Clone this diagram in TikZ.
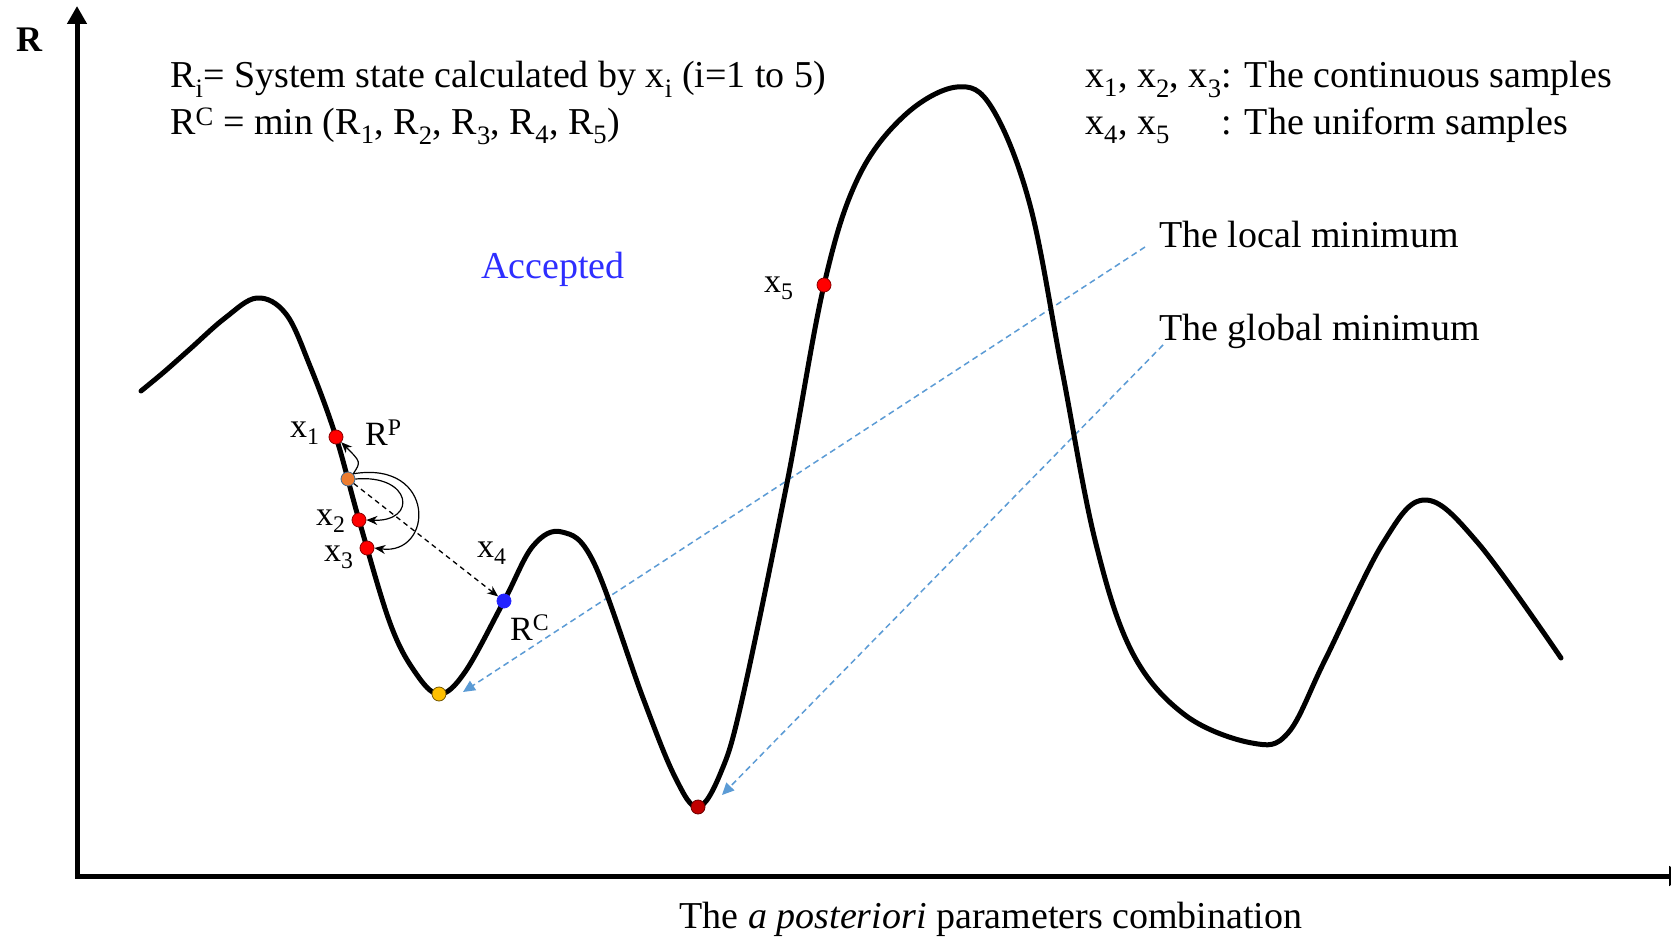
\documentclass[tikz,border=0pt]{standalone}
\usepackage{fontspec}
\setmainfont{Liberation Serif}
\usetikzlibrary{arrows.meta}
\definecolor{lblue}{HTML}{5B9BD5}
\definecolor{accblue}{HTML}{2E2EFF}
\definecolor{dotorange}{HTML}{ED7D31}
\definecolor{dotyellow}{HTML}{FFC000}
\definecolor{dotblue}{HTML}{2323FF}
\definecolor{dotdark}{HTML}{C00000}
\definecolor{dotred}{HTML}{FF0000}
\tikzset{
  curveline/.style={line width=5pt, line join=round, line cap=round},
  axisline/.style={line width=5pt, line join=miter, {Triangle[width=19pt,length=18pt]}-{Triangle[width=19pt,length=18pt]}},
  dot/.style={circle, inner sep=0pt, minimum size=14pt, line width=0.8pt},
  reddot/.style={dot, fill=dotred, draw=dotred!55!black},
  lbl/.style={inner sep=0pt, font=\fontsize{34}{40}\selectfont},
  txt/.style={inner sep=0pt, font=\fontsize{38}{47}\selectfont},
  bluedash/.style={draw=lblue, line width=1.5pt, dash pattern=on 6pt off 4pt, -{Triangle[width=11pt,length=12pt,fill=lblue]}},
  blackdash/.style={line width=1.3pt, dash pattern=on 5pt off 4pt, -{Stealth[width=9pt,length=11pt]}},
  thinarr/.style={line width=1.2pt, -{Stealth[width=9pt,length=11pt]}},
}
\begin{document}
\begin{tikzpicture}[x=1pt,y=-1pt]
\useasboundingbox (0,0) rectangle (1671,939);
\clip (0,0) rectangle (1671,939);
\fill[white] (0,0) rectangle (1671,939);

% axes
\coordinate (ytop) at (77,6);
\coordinate (origin) at (77,876);
\coordinate (xend) at (1687,876);
\draw[axisline] (ytop) -- (origin) -- (xend);
\node[font=\bfseries\fontsize{36}{40}\selectfont, inner sep=0pt] (Rlab) at (29,40) {R};

% blue dashed pointers
\coordinate (locA) at (1145,247);
\coordinate (locB) at (463,692);
\coordinate (gloA) at (1163,345);
\coordinate (gloB) at (722,795);
\draw[bluedash] (locA) -- (locB);
\draw[bluedash] (gloA) -- (gloB);

% curve
\draw[curveline] plot[smooth, tension=0.6] coordinates {
(141,391) (164,372) (190,349) (225,318) (257,298) (286,314) (310,366) (336,437)
(359,520) (390,623) (415,672) (439,694) (465,672) (504,601) (533,546)
(562,532) (594,563) (643,698) (675,777) (698,807) (721,772) (742,700)
(787,483) (824,285) (858,178) (905,115) (957,87) (992,108) (1030,205)
(1062,370) (1095,540) (1132,652) (1185,715) (1252,743) (1288,733)
(1325,660) (1383,543) (1425,500) (1478,543) (1561,658)};

% dots
\node[reddot] (d1) at (336,437) {};
\node[dot, fill=dotorange, draw=lblue!70!black] (dp) at (348,479) {};
\node[reddot] (d2) at (359,520) {};
\node[reddot] (d3) at (367,548) {};
\node[dot, fill=dotyellow, draw=dotyellow!45!black] (dy) at (439,694) {};
\node[dot, fill=dotblue, draw=dotblue] (dc) at (504,601) {};
\node[dot, fill=dotdark, draw=dotdark!55!black] (dg) at (698,807) {};
\node[reddot] (d5) at (824,285) {};

% sample arrows
\draw[thinarr] (dp.north east) .. controls (361,462) .. (d1.south east);
\draw[thinarr] (dp.east) .. controls (412,474) and (418,522) .. (d2.east);
\draw[thinarr] (dp.north east) .. controls (437,460) and (434,556) .. (d3.east);
\draw[blackdash] (dp) -- (dc);

% labels
\node[lbl, anchor=base west] (lx1) at (290,437) {x\textsubscript{1}};
\node[lbl, anchor=base west] (lRP) at (365,445) {R\textsuperscript{P}};
\node[lbl, anchor=base west] (lx2) at (316,525) {x\textsubscript{2}};
\node[lbl, anchor=base west] (lx3) at (324,561) {x\textsubscript{3}};
\node[lbl, anchor=base west] (lx4) at (477,557) {x\textsubscript{4}};
\node[lbl, anchor=base west] (lRC) at (510,640) {R\textsuperscript{C}};
\node[lbl, anchor=base west] (lx5) at (764,292) {x\textsubscript{5}};
\node[txt, anchor=base, text=accblue] (acc) at (553,278) {Accepted};

% texts
\node[txt, anchor=base west] (def1) at (170,88) {R\textsubscript{i}= System state calculated by x\textsubscript{i} (i=1 to 5)};
\node[txt, anchor=base west] (def2) at (170,135) {R\textsuperscript{C} = min (R\textsubscript{1}, R\textsubscript{2}, R\textsubscript{3}, R\textsubscript{4}, R\textsubscript{5})};
\node[txt, anchor=base west] (smp) at (1085,88) {\begin{tabular}[t]{@{}l@{}l@{}}x\textsubscript{1}, x\textsubscript{2}, x\textsubscript{3}&: The continuous samples\\x\textsubscript{4}, x\textsubscript{5}&: The uniform samples\end{tabular}};
\node[txt, anchor=base west] (loc) at (1159,247) {The local minimum};
\node[txt, anchor=base west] (glo) at (1159,340) {The global minimum};
\node[txt, anchor=base] (xlab) at (991,928) {The \textit{a posteriori} parameters combination};
\end{tikzpicture}
\end{document}
